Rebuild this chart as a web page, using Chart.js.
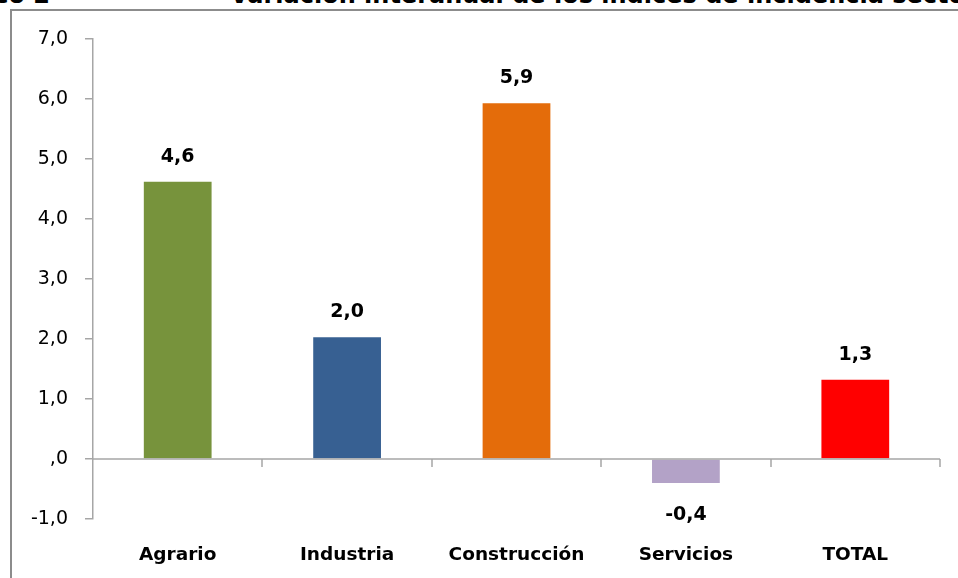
<!DOCTYPE html>
<html>
<head>
<meta charset="utf-8">
<script src="https://cdn.jsdelivr.net/npm/chart.js@4/dist/chart.umd.min.js"></script>
<style>
  html, body { margin: 0; padding: 0; background: #fff; overflow: hidden; }
  #wrap { position: relative; width: 958px; height: 578px; overflow: hidden; }
  .title { position: absolute; top: -19px; font: bold 24px "DejaVu Sans", sans-serif; color: #000; white-space: nowrap; }
  #frame { position: absolute; left: 10px; top: 9px; width: 1000px; height: 1000px; border: 2px solid #8c8c8c; box-sizing: border-box; }
  #chart { position: absolute; left: 0; top: 0; }
</style>
</head>
<body>
<div id="wrap">
  <div class="title" style="right: 908px;">Gráfico 2</div>
  <div class="title" style="left: 230px;">Variación interanual de los índices de incidencia sectorial</div>
  <div id="frame"></div>
  <canvas id="chart" width="958" height="578"></canvas>
</div>
<script>
// Variación interanual por sector
const categories = ['Agrario', 'Industria', 'Construcción', 'Servicios', 'TOTAL'];
const values = [4.62, 2.03, 5.93, -0.40, 1.32];
const barColors = ['#77933c', '#376092', '#e46c0a', '#b3a2c7', '#ff0000'];
const yTicks = [7, 6, 5, 4, 3, 2, 1, 0, -1];

const fmt = (v) => {
  if (Math.abs(v) < 0.05) return ',0';
  const s = Math.abs(v).toFixed(1).replace('.', ',');
  return (v < 0 ? '-' : '') + s;
};

// zero line with category ticks + value labels
const extras = {
  id: 'extras',
  afterDatasetsDraw(chart) {
    const ctx = chart.ctx;
    const x = chart.scales.x;
    const y = chart.scales.y;
    const y0 = y.getPixelForValue(0);
    ctx.save();
    ctx.strokeStyle = '#a6a6a6';
    ctx.lineWidth = 1.5;
    ctx.beginPath();
    ctx.moveTo(x.left, y0);
    ctx.lineTo(x.right, y0);
    const step = (x.right - x.left) / categories.length;
    for (let i = 1; i <= categories.length; i++) {
      const px = Math.round(x.left + step * i);
      ctx.moveTo(px, y0);
      ctx.lineTo(px, y0 + 8);
    }
    ctx.stroke();

    ctx.fillStyle = '#000';
    ctx.font = 'bold 19px "DejaVu Sans"';
    ctx.textAlign = 'center';
    ctx.textBaseline = 'middle';
    const meta = chart.getDatasetMeta(0);
    meta.data.forEach((bar, i) => {
      const v = values[i];
      const ly = v >= 0 ? bar.y - 25 : bar.y + 32;
      ctx.fillText(fmt(v), bar.x, ly);
    });
    ctx.restore();
  }
};

new Chart(document.getElementById('chart'), {
  type: 'bar',
  data: {
    labels: categories,
    datasets: [{
      data: values,
      backgroundColor: barColors,
      borderWidth: 0,
      categoryPercentage: 1,
      barPercentage: 0.4
    }]
  },
  options: {
    responsive: false,
    animation: false,
    layout: { padding: { left: 12, right: 18, top: 39, bottom: 0 } },
    plugins: { legend: { display: false }, tooltip: { enabled: false } },
    scales: {
      x: {
        grid: { display: false, drawTicks: false },
        border: { display: false },
        ticks: {
          color: '#000',
          padding: 25,
          font: { family: 'DejaVu Sans', size: 18.5, weight: 'bold' }
        },
        afterFit(scale) { scale.height = 59; }
      },
      y: {
        min: -1,
        max: 7,
        afterBuildTicks(scale) { scale.ticks = yTicks.map((v) => ({ value: v })); },
        grid: { drawOnChartArea: false, color: '#a6a6a6', tickLength: 8, lineWidth: 1.5 },
        border: { display: true, color: '#a6a6a6', width: 1.5 },
        ticks: {
          color: '#000',
          padding: 17,
          font: { family: 'DejaVu Sans', size: 19 },
          callback: (v) => fmt(v)
        },
        afterFit(scale) { scale.width = 81; }
      }
    }
  },
  plugins: [extras]
});
</script>
</body>
</html>
